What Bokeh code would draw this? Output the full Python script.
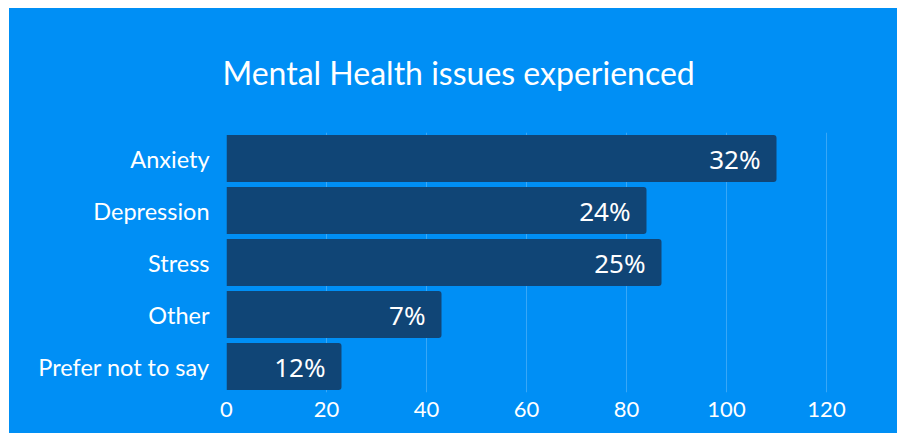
from bokeh.plotting import figure
from bokeh.models import Range1d, ColumnDataSource, Title
from bokeh.embed import file_html
from bokeh.resources import INLINE

categories = ["Anxiety", "Depression", "Stress", "Other", "Prefer not to say"]
values = [110, 84, 87, 43, 23]
value_labels = ["32%", "24%", "25%", "7%", "12%"]
x_ticks = [0, 20, 40, 60, 80, 100, 120]

BG = "#008ff5"
BAR = "#104576"

src = ColumnDataSource(dict(cat=categories, val=values, lab=value_labels))

p = figure(
    width=888, height=425,
    y_range=list(reversed(categories)),
    x_range=Range1d(0, 132),
    output_backend="svg", toolbar_location=None,
    background_fill_color=None, border_fill_color=None,
    outline_line_color=None,
    min_border_left=217, min_border_right=11,
    min_border_top=124, min_border_bottom=41,
)
p.margin = (8, 0, 0, 9)
p.styles = {"background-color": BG}

p.title = Title(text="Mental Health issues experienced", align="left",
                text_font="Lato", text_font_size="32px", text_font_style="normal",
                text_color="white", standoff=81, offset=-4)

p.hbar(y="cat", right="val", left=0, height=0.9, source=src,
       fill_color=BAR, line_color=None, border_radius=(0, 3, 3, 0))

p.text(x="val", y="cat", text="lab", source=src, x_offset=-16,
       text_align="right", text_baseline="middle", text_color="white",
       text_font_size="26px", text_font={"value": "Noto Sans"})

p.xaxis.ticker = x_ticks
p.xaxis.axis_line_color = None
p.xaxis.major_tick_line_color = None
p.xaxis.minor_tick_line_color = None
p.xaxis.major_label_text_color = "white"
p.xaxis.major_label_text_font = "Lato"
p.xaxis.major_label_text_font_size = "22px"
p.xaxis.major_label_standoff = 3

p.yaxis.axis_line_color = None
p.yaxis.major_tick_line_color = None
p.yaxis.minor_tick_line_color = None
p.yaxis.major_label_text_color = "white"
p.yaxis.major_label_text_font = "Lato"
p.yaxis.major_label_text_font_size = "23.5px"
p.yaxis.major_label_standoff = 11

p.ygrid.grid_line_color = None
p.xgrid.ticker = x_ticks
p.xgrid.grid_line_color = "white"
p.xgrid.grid_line_alpha = 0.22

open("out.html", "w").write(file_html(p, INLINE))
